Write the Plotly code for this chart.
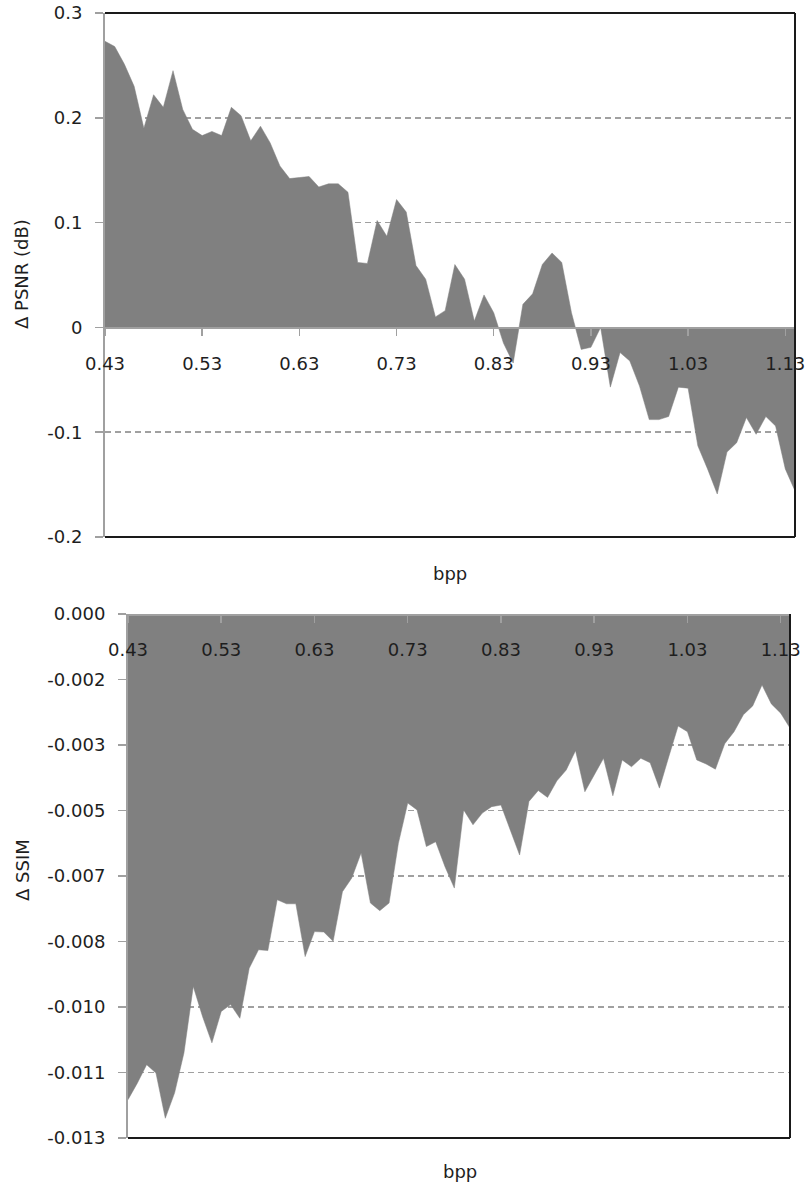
import plotly.graph_objects as go

bpp = ["0.43", "0.44", "0.45", "0.46", "0.47", "0.48", "0.49", "0.50", "0.51", "0.52",
       "0.53", "0.54", "0.55", "0.56", "0.57", "0.58", "0.59", "0.60", "0.61", "0.62",
       "0.63", "0.64", "0.65", "0.66", "0.67", "0.68", "0.69", "0.70", "0.71", "0.72",
       "0.73", "0.74", "0.75", "0.76", "0.77", "0.78", "0.79", "0.80", "0.81", "0.82",
       "0.83", "0.84", "0.85", "0.86", "0.87", "0.88", "0.89", "0.90", "0.91", "0.92",
       "0.93", "0.94", "0.95", "0.96", "0.97", "0.98", "0.99", "1.00", "1.01", "1.02",
       "1.03", "1.04", "1.05", "1.06", "1.07", "1.08", "1.09", "1.10", "1.11", "1.12",
       "1.13", "1.14"]

delta_psnr = [0.273, 0.268, 0.251, 0.230, 0.190, 0.222, 0.210, 0.245, 0.208, 0.189,
              0.183, 0.187, 0.183, 0.210, 0.202, 0.178, 0.192, 0.176, 0.154, 0.142,
              0.143, 0.144, 0.134, 0.137, 0.137, 0.129, 0.062, 0.061, 0.102, 0.087,
              0.122, 0.110, 0.059, 0.046, 0.010, 0.016, 0.060, 0.046, 0.006, 0.031,
              0.014, -0.015, -0.034, 0.022, 0.032, 0.060, 0.071, 0.062, 0.014, -0.021,
              -0.019, 0.000, -0.057, -0.024, -0.032, -0.056, -0.088, -0.088, -0.085, -0.057,
              -0.058, -0.113, -0.135, -0.159, -0.119, -0.110, -0.086, -0.102, -0.085, -0.094,
              -0.135, -0.156]

delta_ssim = [-0.01205, -0.01164, -0.01118, -0.01139, -0.01251, -0.01188, -0.01089, -0.00924, -0.00999, -0.01064,
              -0.00986, -0.00969, -0.01003, -0.00879, -0.00833, -0.00835, -0.00709, -0.00719, -0.00719, -0.00850,
              -0.00788, -0.00789, -0.00812, -0.00689, -0.00655, -0.00593, -0.00717, -0.00736, -0.00717, -0.00569,
              -0.00469, -0.00486, -0.00577, -0.00565, -0.00627, -0.00680, -0.00486, -0.00523, -0.00494, -0.00478,
              -0.00474, -0.00536, -0.00598, -0.00465, -0.00438, -0.00455, -0.00414, -0.00387, -0.00339, -0.00441,
              -0.00399, -0.00358, -0.00451, -0.00362, -0.00379, -0.00358, -0.00369, -0.00432, -0.00354, -0.00278,
              -0.00292, -0.00362, -0.00372, -0.00385, -0.00322, -0.00292, -0.00250, -0.00228, -0.00176, -0.00223,
              -0.00246, -0.00283]

psnr_ticks = [-0.2, -0.1, 0, 0.1, 0.2, 0.3]
psnr_ticktext = ["-0.2", "-0.1", "0", "0.1", "0.2", "0.3"]
ssim_ticks = [0, -0.001625, -0.00325, -0.004875, -0.0065, -0.008125, -0.00975, -0.011375, -0.013]
ssim_ticktext = ["0.000", "-0.002", "-0.003", "-0.005", "-0.007", "-0.008", "-0.010", "-0.011", "-0.013"]
x_labels = bpp[::10]

W, H = 808, 1187
FONT = "DejaVu Sans"
FS = 18
GRAY_AX = "#a0a0a0"
GRID = "#a0a0a0"
FILL = "#808080"
TXT = "#1e1e1e"

def fx(px):
    return px / W

def fy(py):
    return 1 - py / H

# plot areas (window pixels)
top_l, top_r, top_t, top_b = 105, 795, 13, 537
bot_l, bot_r, bot_t, bot_b = 128, 790, 614, 1138

top_dom_y = [fy(top_b), fy(top_t)]
bot_dom_y = [fy(bot_b), fy(bot_t)]
psnr_range = [-0.2, 0.3]
ssim_range = [-0.013, 0]
zero_pos_top = top_dom_y[0] + (0 - psnr_range[0]) / (psnr_range[1] - psnr_range[0]) * (top_dom_y[1] - top_dom_y[0])
zero_pos_bot = bot_dom_y[0] + (0 - ssim_range[0]) / (ssim_range[1] - ssim_range[0]) * (bot_dom_y[1] - bot_dom_y[0])

fig = go.Figure()
fig.add_trace(go.Scatter(x=bpp, y=delta_psnr, mode="lines", fill="tozeroy",
                         line=dict(color=FILL, width=0.5), fillcolor=FILL,
                         xaxis="x", yaxis="y", showlegend=False, hoverinfo="skip"))
fig.add_trace(go.Scatter(x=bpp, y=delta_ssim, mode="lines", fill="tozeroy",
                         line=dict(color=FILL, width=0.5), fillcolor=FILL,
                         xaxis="x2", yaxis="y2", showlegend=False, hoverinfo="skip"))

xcommon = dict(type="category", range=[0, len(bpp) - 1], anchor="free", side="bottom",
               showline=True, linecolor=GRAY_AX, linewidth=1.5, ticks="outside", ticklen=7,
               tickcolor=GRAY_AX, tickwidth=1.5, tickvals=x_labels, ticktext=x_labels,
               showgrid=False, zeroline=False, tickfont=dict(family=FONT, size=FS, color=TXT),
               ticklabelstandoff=12, layer="above traces", automargin=False,
               ticklabeloverflow="allow")
ycommon = dict(showgrid=True, gridcolor=GRID, griddash="6px,4px", gridwidth=1.5, zeroline=False,
               showline=True, linecolor=GRAY_AX, linewidth=2, ticks="outside", ticklen=8,
               tickcolor=GRAY_AX, tickwidth=1.5, tickfont=dict(family=FONT, size=FS, color=TXT),
               ticklabelstandoff=9, layer="above traces", automargin=False,
               ticklabeloverflow="allow")

fig.update_layout(
    template="none",
    width=W, height=H, margin=dict(l=0, r=0, t=0, b=0, autoexpand=False),
    paper_bgcolor="white", plot_bgcolor="white",
    xaxis=dict(domain=[fx(top_l), fx(top_r)], position=zero_pos_top, **xcommon),
    yaxis=dict(domain=top_dom_y, range=psnr_range, tickvals=psnr_ticks, ticktext=psnr_ticktext,
               anchor="x", **ycommon),
    xaxis2=dict(domain=[fx(bot_l), fx(bot_r)], position=zero_pos_bot, **xcommon),
    yaxis2=dict(domain=bot_dom_y, range=ssim_range, tickvals=ssim_ticks, ticktext=ssim_ticktext,
                anchor="x2", **ycommon),
)

border = dict(color="#1a1a1a", width=2)
shapes = [
    dict(type="line", xref="x domain", yref="y domain", x0=0, x1=1, y0=1, y1=1, line=border),
    dict(type="line", xref="x domain", yref="y domain", x0=1, x1=1, y0=0, y1=1, line=border),
    dict(type="line", xref="x domain", yref="y domain", x0=0, x1=1, y0=0, y1=0, line=border),
    dict(type="line", xref="x2 domain", yref="y2 domain", x0=1, x1=1, y0=0, y1=1, line=border),
    dict(type="line", xref="x2 domain", yref="y2 domain", x0=0, x1=1, y0=0, y1=0, line=border),
]
fig.update_layout(shapes=shapes)

title_font = dict(family=FONT, size=FS, color=TXT)
fig.add_annotation(text="Δ PSNR (dB)", x=fx(22), y=fy(274), xref="paper", yref="paper",
                   textangle=-90, showarrow=False, font=title_font, xanchor="center", yanchor="middle")
fig.add_annotation(text="Δ SSIM", x=fx(22), y=fy(870), xref="paper", yref="paper",
                   textangle=-90, showarrow=False, font=title_font, xanchor="center", yanchor="middle")
fig.add_annotation(text="bpp", x=fx(450), y=fy(573), xref="paper", yref="paper",
                   showarrow=False, font=title_font, xanchor="center", yanchor="middle")
fig.add_annotation(text="bpp", x=fx(460), y=fy(1171), xref="paper", yref="paper",
                   showarrow=False, font=title_font, xanchor="center", yanchor="middle")

# remove the browser's default 8px page margin so the figure fills the window exactly
fig.write_html("out.html",
               config={"displayModeBar": False, "staticPlot": True},
               post_script="document.body.style.margin='0';document.body.style.overflow='hidden';")
